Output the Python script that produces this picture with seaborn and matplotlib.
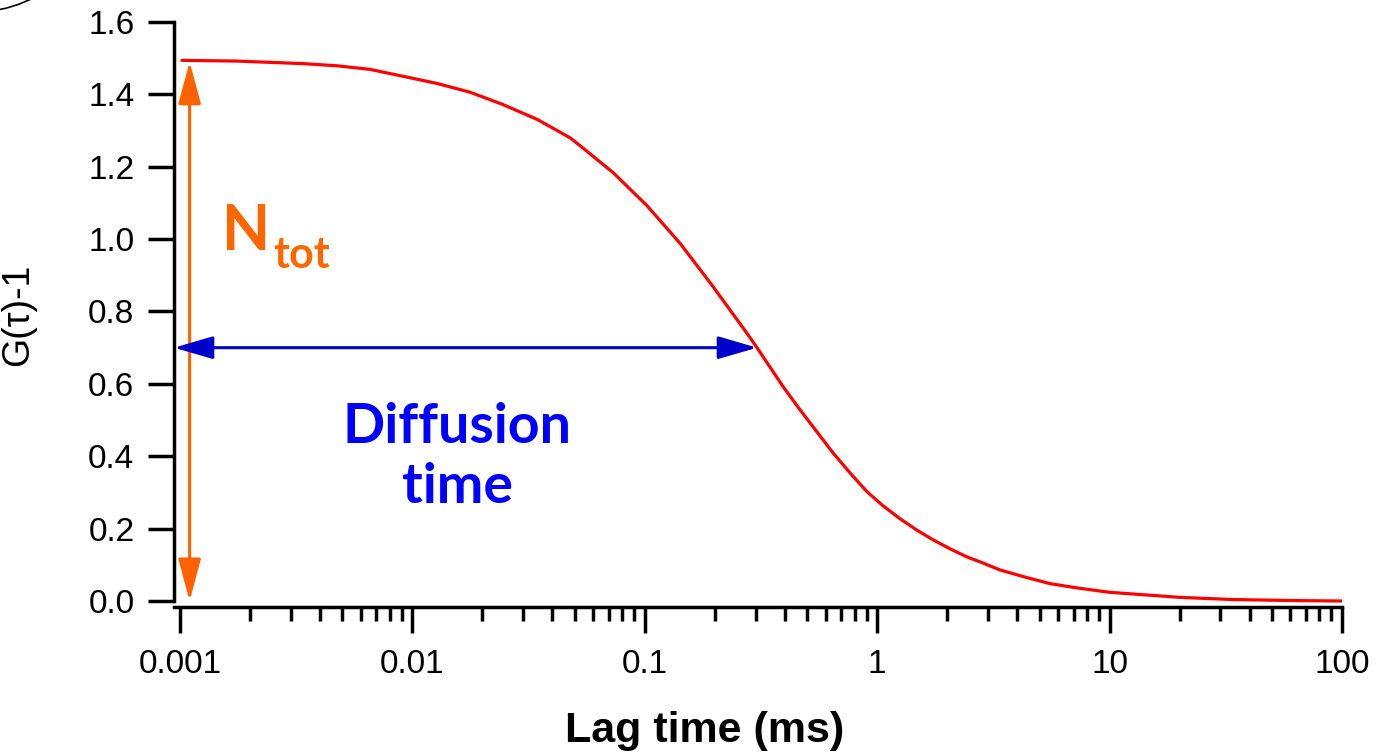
import numpy as np
import pandas as pd
import matplotlib
matplotlib.use("Agg")
import matplotlib.pyplot as plt
import seaborn as sns
from matplotlib.ticker import LogLocator, FixedLocator, FixedFormatter, NullFormatter
from matplotlib.patches import FancyArrowPatch, Circle

# Autocorrelation curve G(tau)-1 versus lag time (ms)
lag_ms = [0.00102, 0.00176, 0.00338, 0.00474, 0.00658, 0.00912, 0.0128, 0.0177,
          0.0245, 0.0344, 0.0477, 0.0527, 0.0730, 0.102, 0.142, 0.196, 0.275,
          0.304, 0.394, 0.466, 0.551, 0.646, 0.764, 0.904, 1.06, 1.25, 1.48,
          1.74, 2.06, 2.43, 2.85, 3.37, 4.33, 5.54, 7.09, 10.0, 14.9, 20.1,
          33.9, 65.6, 100.0]
g_minus_1 = [1.494, 1.492, 1.485, 1.479, 1.469, 1.450, 1.430, 1.406,
             1.372, 1.331, 1.280, 1.258, 1.184, 1.093, 0.988, 0.870, 0.740,
             0.700, 0.592, 0.528, 0.467, 0.409, 0.354, 0.302, 0.263, 0.228, 0.196,
             0.169, 0.144, 0.122, 0.105, 0.086, 0.066, 0.048, 0.037, 0.024, 0.016, 0.010,
             0.004, 0.001, 0.000]

x_ticks = [0.001, 0.01, 0.1, 1, 10, 100]
x_tick_labels = ["0.001", "0.01", "0.1", "1", "10", "100"]
y_ticks = [0.0, 0.2, 0.4, 0.6, 0.8, 1.0, 1.2, 1.4, 1.6]
y_tick_labels = ["0.0", "0.2", "0.4", "0.6", "0.8", "1.0", "1.2", "1.4", "1.6"]

n_tot_amplitude = 1.49
n_tot_lag = 0.0011
diffusion_time = 0.304
diffusion_level = 0.70

sns.set_theme(style="ticks")
plt.rcParams["font.family"] = ["Liberation Sans", "DejaVu Sans"]

df = pd.DataFrame({"lag": lag_ms, "g": g_minus_1})

fig = plt.figure(figsize=(13.77, 7.53), dpi=100)
ax = fig.add_axes([0.12636, 0.19389, 0.84822, 0.77689])

sns.lineplot(data=df, x="lag", y="g", ax=ax, color="#FF0000", linewidth=2.3)

ax.set_xscale("log")
x_left = 10 ** (-3 - 6 / 232.4)
ax.set_xlim(x_left, 100)
ax.set_ylim(-0.0166, 1.6)

ax.xaxis.set_major_locator(FixedLocator(x_ticks))
ax.xaxis.set_major_formatter(FixedFormatter(x_tick_labels))
ax.xaxis.set_minor_locator(LogLocator(base=10, subs=np.arange(2, 10), numticks=20))
ax.xaxis.set_minor_formatter(NullFormatter())
ax.yaxis.set_major_locator(FixedLocator(y_ticks))
ax.yaxis.set_major_formatter(FixedFormatter(y_tick_labels))

for side in ("top", "right"):
    ax.spines[side].set_visible(False)
for side in ("left", "bottom"):
    ax.spines[side].set_linewidth(2.5)
    ax.spines[side].set_color("black")
ax.spines["left"].set_bounds(0, 1.6)

ax.tick_params(axis="both", which="major", direction="out", length=18.5, width=2.5,
               color="black", labelsize=24, labelcolor="black")
ax.tick_params(axis="x", which="major", pad=12)
ax.tick_params(axis="y", which="major", pad=10)
ax.tick_params(axis="x", which="minor", direction="out", length=10, width=2.5, color="black")

ax.set_xlabel("Lag time (ms)", fontsize=31, fontweight="bold", color="black")
ax.xaxis.set_label_coords(0.4546, -0.178)
ax.set_ylabel("G(\u03c4)-1", fontsize=27, color="black")
ax.yaxis.set_label_coords(-0.118, 0.5)
ax.grid(False)

# Amplitude arrow (N_tot)
amp = FancyArrowPatch((n_tot_lag, 0.0), (n_tot_lag, n_tot_amplitude),
                      arrowstyle="<|-|>,head_length=26,head_width=7", mutation_scale=1,
                      color="#FF6000", linewidth=2.2, shrinkA=0, shrinkB=0, zorder=4)
ax.add_patch(amp)

# Diffusion time arrow
dt = FancyArrowPatch((x_left, diffusion_level), (diffusion_time, diffusion_level),
                     arrowstyle="<|-|>,head_length=24,head_width=7", mutation_scale=1,
                     color="#0000CC", linewidth=2.2, shrinkA=0, shrinkB=0, zorder=4)
ax.add_patch(dt)

ax.text(0.0411, 0.6103, "N", transform=ax.transAxes, fontsize=45, fontweight="bold",
        family="Lato", color="#FF6600", ha="left", va="baseline")
ax.text(0.0848, 0.5795, "tot", transform=ax.transAxes, fontsize=31, fontweight="bold",
        family="Lato", color="#FF6600", ha="left", va="baseline")
ax.text(0.2423, 0.2803, "Diffusion", transform=ax.transAxes, fontsize=40, fontweight="bold",
        family="Lato", color="#0000FF", ha="center", va="baseline")
ax.text(0.2423, 0.1778, "time", transform=ax.transAxes, fontsize=40, fontweight="bold",
        family="Lato", color="#0000FF", ha="center", va="baseline")

# Partial outline in the upper-left corner
fig.add_artist(Circle((-25, 868), 127, transform=None, fill=False,
                      edgecolor="black", linewidth=1.2))

fig.savefig("out.png", dpi=100)
